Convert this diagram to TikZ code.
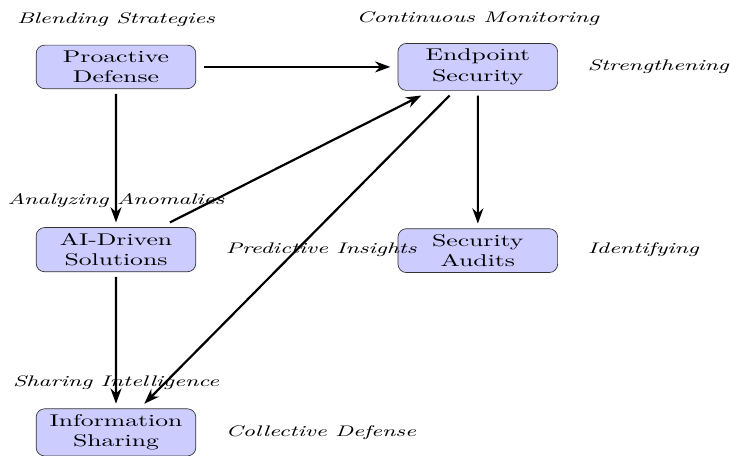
\documentclass[tikz,border=0pt]{standalone}
\usetikzlibrary{arrows.meta}
\definecolor{boxfill}{RGB}{204,204,255}

\begin{document}
\begin{tikzpicture}[xscale=1.512, transform shape,
        box/.style={draw=black!80, rounded corners=5pt, fill=boxfill, text width=1.95cm, align=center, outer sep=3pt},
        lbl/.style={font=\small\itshape},
        link/.style={-{Stealth[length=9pt, width=6.5pt]}, line width=1.3pt}]
    \useasboundingbox (-1.587,-8.04) rectangle (8.40,1.384);
    % steps of the defense
    \foreach \n/\x/\y/\txt in {pro/0/0/Proactive\\Defense, endp/4.95/0/Endpoint\\Security,
        ai/0/-3.78/AI-Driven\\Solutions, audit/4.95/-3.80/Security\\Audits, share/0/-7.56/Information\\Sharing}
    {
        \node[box] (\n) at (\x,\y) {\txt};
    }
    % captions above the boxes
    \foreach \n/\x/\y/\txt in {lpro/0/0.98/Blending Strategies, lendp/4.95/1/Continuous Monitoring,
        lai/0/-2.76/Analyzing Anomalies, lshare/0/-6.54/Sharing Intelligence}
        \node[lbl] (\n) at (\x,\y) {\txt};
    % captions right of the boxes
    \foreach \n/\x/\y/\txt in {rendp/6.33/0/Strengthening, rai/1.38/-3.78/Predictive Insights,
        raudit/6.33/-3.78/Identifying, rshare/1.38/-7.56/Collective Defense}
        \node[lbl, anchor=west] (\n) at (\x,\y) {\txt};
    \foreach \a/\b in {pro/endp, pro/ai, ai/endp, endp/audit, endp/share, ai/share}
        \draw[link] (\a) -- (\b);
\end{tikzpicture}
\end{document}
